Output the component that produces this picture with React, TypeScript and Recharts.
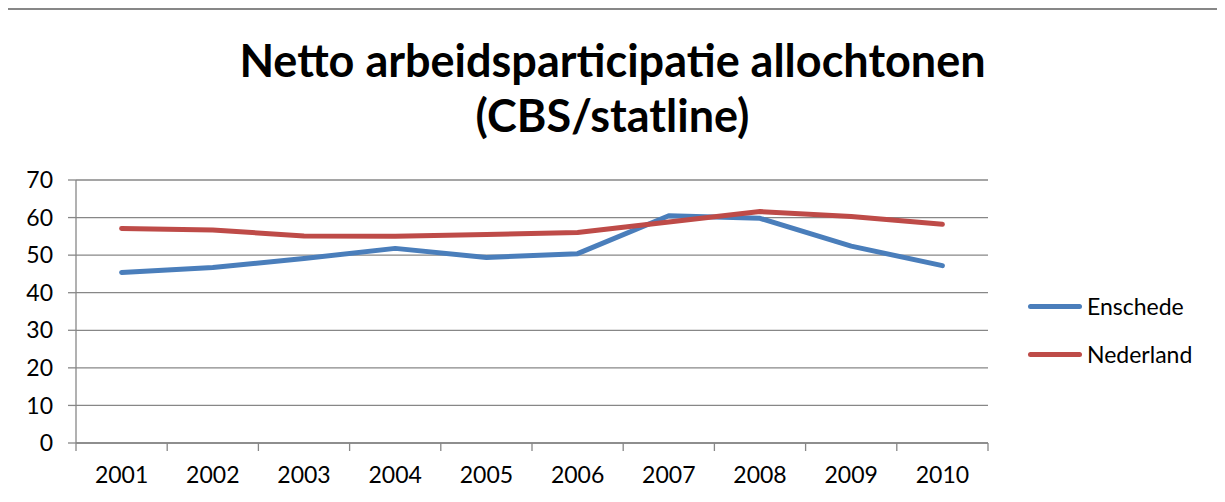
import React from 'react';
import { LineChart, Line, XAxis, YAxis, CartesianGrid } from 'recharts';

const years = ['2001', '2002', '2003', '2004', '2005', '2006', '2007', '2008', '2009', '2010'];
const enschede = [45.4, 46.7, 49.1, 51.8, 49.4, 50.4, 60.5, 59.8, 52.4, 47.2];
const nederland = [57.1, 56.7, 55.1, 55.0, 55.5, 56.0, 58.8, 61.6, 60.3, 58.2];
const yTicks = [0, 10, 20, 30, 40, 50, 60, 70];

const data = years.map((y, i) => ({ year: y, Enschede: enschede[i], Nederland: nederland[i] }));

const FONT = 'Lato, "Open Sans", sans-serif';
const GRID = '#878787';
const BLUE = '#4A7EBB';
const RED = '#BE4B48';

const XTick = (props: any) => {
  const { x, y, payload, index, visibleTicksCount } = props;
  const off = payload && typeof payload.offset === 'number' ? payload.offset : 0;
  const last = index === (visibleTicksCount ?? years.length) - 1;
  return (
    <g>
      <line x1={x - off} y1={y} x2={x - off} y2={y + 8} stroke={GRID} strokeWidth={1.3} />
      {last ? <line x1={x + off} y1={y} x2={x + off} y2={y + 8} stroke={GRID} strokeWidth={1.3} /> : null}
      <text x={x} y={y + 31} textAnchor="middle" dominantBaseline="central" fontFamily={FONT} fontSize={23} fill="#000">
        {payload.value}
      </text>
    </g>
  );
};

export default function App() {
  return (
    <div
      style={{
        position: 'relative',
        width: 1225,
        height: 502,
        margin: -8,
        background: '#fff',
        overflow: 'hidden',
        boxShadow: 'inset 8px 0 0 -6px #878787',
      }}
    >
      <div
        style={{
          position: 'absolute',
          left: 0,
          top: 33,
          width: 1225,
          textAlign: 'center',
          fontFamily: FONT,
          fontWeight: 700,
          fontSize: 45,
          lineHeight: '55px',
          color: '#000',
        }}
      >
        Netto arbeidsparticipatie allochtonen
        <br />
        (CBS/statline)
      </div>
      <div style={{ position: 'absolute', left: 0, top: 0 }}>
        <LineChart width={1225} height={502} data={data} margin={{ top: 180, right: 237, bottom: 0, left: 0 }}>
          <CartesianGrid vertical={false} stroke={GRID} strokeWidth={1.3} />
          <XAxis
            dataKey="year"
            scale="band"
            height={59}
            axisLine={{ stroke: GRID, strokeWidth: 1.3 }}
            tickLine={false}
            tickSize={0}
            tickMargin={0}
            interval={0}
            tick={<XTick />}
          />
          <YAxis
            width={76}
            domain={[0, 70]}
            ticks={yTicks}
            interval={0}
            axisLine={{ stroke: GRID, strokeWidth: 1.3 }}
            tickLine={{ stroke: GRID, strokeWidth: 1.3 }}
            tickSize={8}
            tickMargin={15}
            tick={{ fontFamily: FONT, fontSize: 23, fill: '#000' }}
          />
          <Line dataKey="Enschede" stroke={BLUE} strokeWidth={5} dot={false} isAnimationActive={false} strokeLinecap="round" strokeLinejoin="round" />
          <Line dataKey="Nederland" stroke={RED} strokeWidth={5} dot={false} isAnimationActive={false} strokeLinecap="round" strokeLinejoin="round" />
        </LineChart>
      </div>
      <div style={{ position: 'absolute', left: 6, top: 8, width: 1219, height: 2, background: GRID }} />
      <div style={{ position: 'absolute', left: 6, top: 8, width: 2, height: 494, background: GRID }} />
      {[
        { name: 'Enschede', color: BLUE, y: 306 },
        { name: 'Nederland', color: RED, y: 354 },
      ].map((l) => (
        <div key={l.name} style={{ position: 'absolute', left: 1028, top: l.y - 15, height: 30, display: 'flex', alignItems: 'center' }}>
          <div style={{ width: 54, height: 5, borderRadius: 3, background: l.color }} />
          <span style={{ marginLeft: 5, fontFamily: FONT, fontSize: 23, color: '#000' }}>{l.name}</span>
        </div>
      ))}
    </div>
  );
}
